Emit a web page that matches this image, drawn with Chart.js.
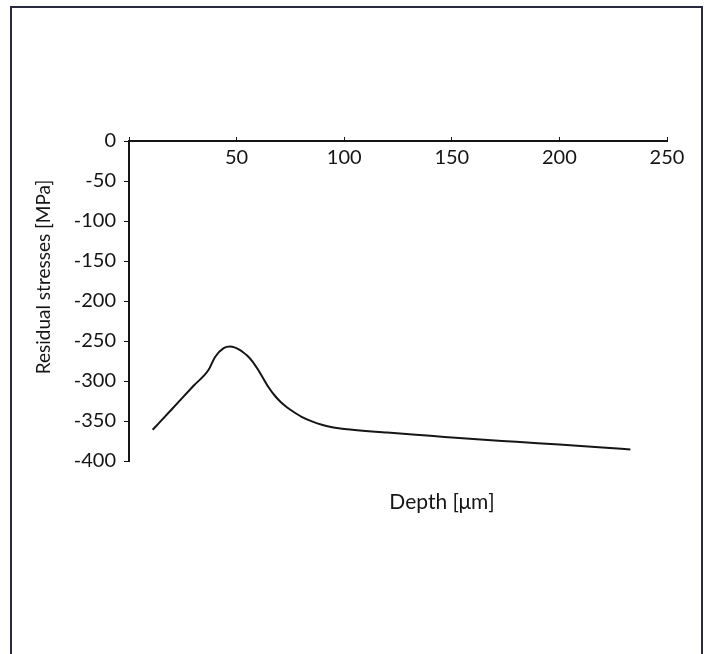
<!DOCTYPE html>
<html>
<head>
<meta charset="utf-8">
<script src="https://cdn.jsdelivr.net/npm/chart.js@4/dist/chart.umd.min.js"></script>
<style>
  html, body { margin: 0; padding: 0; background: #fff; }
  #wrap { position: relative; width: 710px; height: 654px; overflow: hidden; }
  #cornice { position: absolute; left: 10px; top: 6px; width: 693px; height: 700px;
             border: 2px solid #2a2a3e; box-sizing: border-box; }
  #grafico { position: absolute; left: 0; top: 0; }
</style>
</head>
<body>
<div id="wrap">
  <div id="cornice"></div>
  <canvas id="grafico" width="710" height="654"></canvas>
</div>
<script>
// profondità [µm] e tensioni residue [MPa]
const profondita = [11, 20, 30, 37, 40, 44, 47, 49, 51, 53, 55, 57.5, 60, 62, 65, 67.5, 70, 72.5, 75, 80, 85, 90, 95, 100, 120, 140, 160, 180, 200, 220, 233];
const tensioni = [-361, -335, -306, -286, -270, -259, -257, -258, -260.5, -264, -268.5, -276, -286, -295, -308.5, -317.5, -325, -331, -336, -344.5, -350.5, -355, -358, -360, -364.5, -368.5, -372.5, -376, -379.5, -383, -385.5];

const tickX = [0, 50, 100, 150, 200, 250];
const tickY = [0, -50, -100, -150, -200, -250, -300, -350, -400];

const titoloX = "Depth [\u03bcm]";
const titoloY = "Residual stresses [MPa]";

const font = "Lato";
const nero = "#151515";

// titoli degli assi disegnati a mano (posizione libera)
const titoliAssi = {
  id: "titoliAssi",
  afterDraw(chart) {
    const ctx = chart.ctx;
    ctx.save();
    ctx.fillStyle = nero;
    ctx.textAlign = "center";
    ctx.textBaseline = "middle";
    ctx.font = `21px ${font}`;
    ctx.fillText(titoloX, 442, 502);
    ctx.font = `19px ${font}`;
    ctx.translate(44, 277);
    ctx.rotate(-Math.PI / 2);
    ctx.fillText(titoloY, 0, 0);
    ctx.restore();
  }
};

const punti = profondita.map((x, i) => ({ x, y: tensioni[i] }));

new Chart(document.getElementById("grafico"), {
  type: "line",
  data: {
    datasets: [{
      data: punti,
      borderColor: nero,
      borderWidth: 2,
      pointRadius: 0,
      cubicInterpolationMode: "monotone",
      fill: false
    }]
  },
  options: {
    responsive: false,
    animation: false,
    layout: { padding: { left: 0, top: 141, right: 43, bottom: 193 } },
    plugins: { legend: { display: false }, tooltip: { enabled: false } },
    scales: {
      x: {
        type: "linear",
        position: { y: 0 },
        min: 0,
        max: 250,
        afterBuildTicks: s => { s.ticks = tickX.map(v => ({ value: v })); },
        ticks: {
          color: nero,
          font: { family: font, size: 20 },
          padding: 10,
          maxRotation: 0,
          callback: v => (v === 0 ? "" : v)
        },
        grid: { drawOnChartArea: false, drawTicks: true, tickLength: -5, color: nero, lineWidth: 1 },
        border: { display: true, color: nero, width: 2 }
      },
      y: {
        min: -400,
        max: 0,
        afterFit: s => { s.width = 129; },
        afterBuildTicks: s => { s.ticks = tickY.map(v => ({ value: v })); },
        ticks: {
          color: nero,
          font: { family: font, size: 20 },
          padding: 8
        },
        grid: { drawOnChartArea: false, drawTicks: true, tickLength: 5, color: nero, lineWidth: 1 },
        border: { display: true, color: nero, width: 2 }
      }
    }
  },
  plugins: [titoliAssi]
});
</script>
</body>
</html>
